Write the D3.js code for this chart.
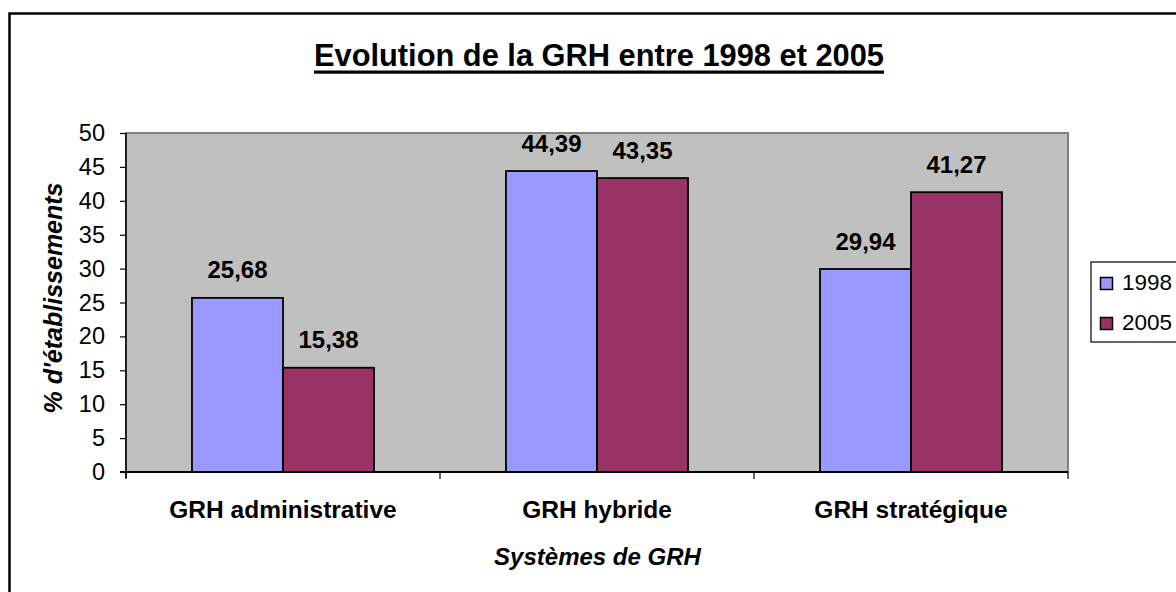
<!DOCTYPE html>
<html><head><meta charset="utf-8">
<script src="https://cdn.jsdelivr.net/npm/d3@7"></script>
<style>body{margin:0;background:#fff}svg{display:block}text{font-family:"Liberation Sans",Arial,sans-serif}</style>
</head><body><svg id="c" width="1176" height="592"></svg>
<script>
const categories = ["GRH administrative", "GRH hybride", "GRH stratégique"];
const seriesNames = ["1998", "2005"];
const values1998 = [25.68, 44.39, 29.94];
const values2005 = [15.38, 43.35, 41.27];
const yTicks = [0, 5, 10, 15, 20, 25, 30, 35, 40, 45, 50];
const colors = ["#9999FF", "#993366"];
const title = "Evolution de la GRH entre 1998 et 2005";

const svg = d3.select("#c");
const m = {l:126, r:1068, t:133, b:472};
const x = d3.scaleBand().domain(categories).range([m.l, m.r]).paddingInner(0).paddingOuter(0);
const x1 = d3.scaleBand().domain(seriesNames).range([0, x.bandwidth()]).paddingInner(0).paddingOuter(0.725);
const y = d3.scaleLinear().domain([0, 50]).range([m.b, m.t]);

// outer border
svg.append("rect").attr("x", 9.5).attr("y", 13.5).attr("width", 1200).attr("height", 600)
  .attr("fill", "none").attr("stroke", "#000").attr("stroke-width", 2.5);

// title
const t = svg.append("text").attr("x", 599).attr("y", 66).attr("text-anchor", "middle")
  .attr("font-size", 30.8).attr("font-weight", "bold").text(title);
const tw = t.node().getComputedTextLength();
svg.append("rect").attr("x", 599 - tw/2).attr("y", 70.5).attr("width", tw).attr("height", 3.2).attr("fill", "#000");

// plot area
svg.append("rect").attr("x", m.l).attr("y", m.t).attr("width", m.r - m.l).attr("height", m.b - m.t)
  .attr("fill", "#C0C0C0").attr("stroke", "#808080").attr("stroke-width", 2);

const data = categories.map((c, i) => ({cat: c, vals: [values1998[i], values2005[i]]}));
const g = svg.append("g").selectAll("g").data(data).join("g")
  .attr("transform", d => `translate(${x(d.cat)},0)`);
g.selectAll("rect").data(d => d.vals.map((v, j) => ({v, s: seriesNames[j], j}))).join("rect")
  .attr("x", d => x1(d.s)).attr("width", x1.bandwidth())
  .attr("y", d => y(d.v)).attr("height", d => y(0) - y(d.v))
  .attr("fill", d => colors[d.j]).attr("stroke", "#000").attr("stroke-width", 1.8);
g.selectAll("text").data(d => d.vals.map((v, j) => ({v, s: seriesNames[j]}))).join("text")
  .attr("x", d => x1(d.s) + x1.bandwidth()/2)
  .attr("y", d => y(d.v) - 19.5)
  .attr("text-anchor", "middle").attr("font-size", 24).attr("font-weight", "bold")
  .text(d => d3.format(".2f")(d.v).replace(".", ","));

// y axis
const ya = svg.append("g").attr("transform", `translate(${m.l},0)`)
  .call(d3.axisLeft(y).tickValues(yTicks).tickSize(6).tickPadding(15));
ya.select(".domain").attr("stroke", "#000").attr("stroke-width", 1.5).attr("d", `M0,${m.t}V${m.b + 6}`);
ya.selectAll(".tick line").attr("stroke", "#000").attr("stroke-width", 1.2);
ya.selectAll("text").attr("font-size", 23.5).attr("font-family", "Liberation Sans, Arial, sans-serif").attr("fill", "#000");

// x axis
const xa = svg.append("g").attr("transform", `translate(0,${m.b})`);
xa.append("line").attr("x1", m.l - 6).attr("x2", m.r).attr("y1", 0).attr("y2", 0).attr("stroke", "#000").attr("stroke-width", 2);
const bounds = categories.map(c => x(c)).concat([m.r]);
xa.selectAll("line.tk").data(bounds).join("line").attr("class", "tk")
  .attr("x1", d => d).attr("x2", d => d).attr("y1", 0).attr("y2", 7).attr("stroke", "#000").attr("stroke-width", 1.2);
xa.selectAll("text").data(categories).join("text")
  .attr("x", d => x(d) + x.bandwidth()/2).attr("y", 46).attr("text-anchor", "middle")
  .attr("font-size", 24.5).attr("font-weight", "bold").text(d => d);

// axis titles
svg.append("text").attr("x", 597.5).attr("y", 565).attr("text-anchor", "middle")
  .attr("font-size", 24).attr("font-weight", "bold").attr("font-style", "italic").text("Systèmes de GRH");
svg.append("text").attr("transform", "translate(62,298) rotate(-90)").attr("text-anchor", "middle")
  .attr("font-size", 25).attr("font-weight", "bold").attr("font-style", "italic").text("% d'établissements");

// legend
const lg = svg.append("g");
lg.append("rect").attr("x", 1091).attr("y", 262).attr("width", 120).attr("height", 80)
  .attr("fill", "#fff").attr("stroke", "#000").attr("stroke-width", 1.2);
seriesNames.forEach((s, i) => {
  lg.append("rect").attr("x", 1100.5).attr("y", 277.5 + i*40).attr("width", 12).attr("height", 12)
    .attr("fill", colors[i]).attr("stroke", "#000").attr("stroke-width", 1.5);
  lg.append("text").attr("x", 1122).attr("y", 290 + i*40).attr("font-size", 22.5).text(s);
});
</script></body></html>
